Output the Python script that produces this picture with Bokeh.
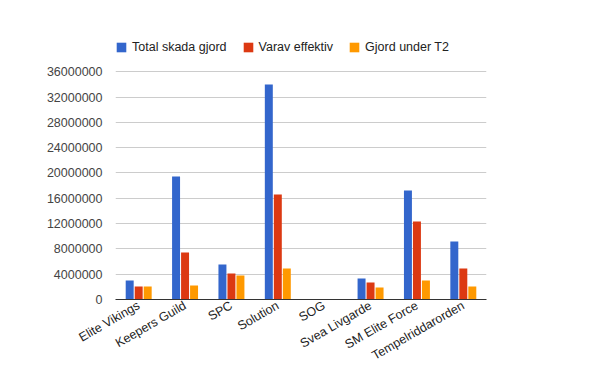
import math
from bokeh.plotting import figure
from bokeh.models import ColumnDataSource, FactorRange, Range1d, Legend, LegendItem, BasicTickFormatter, FixedTicker
from bokeh.transform import dodge
from bokeh.embed import file_html
from bokeh.resources import INLINE

categories = ["Elite Vikings", "Keepers Guild", "SPC", "Solution", "SOG",
              "Svea Livgarde", "SM Elite Force", "Tempelriddarorden"]
series_names = ["Total skada gjord", "Varav effektiv", "Gjord under T2"]
total = [3000000, 19450000, 5530000, 34000000, 0, 3320000, 17240000, 9170000]
effektiv = [2060000, 7430000, 4100000, 16600000, 0, 2690000, 12330000, 4900000]
t2 = [2060000, 2200000, 3800000, 4900000, 0, 1900000, 3000000, 2060000]
y_ticks = [0, 4000000, 8000000, 12000000, 16000000, 20000000, 24000000, 28000000, 32000000, 36000000]
colors = ["#3366cc", "#dc3912", "#ff9900"]

src = ColumnDataSource(dict(cat=categories, total=total, effektiv=effektiv, t2=t2))

FONT = "Liberation Sans"
p = figure(width=600, height=371, x_range=FactorRange(*categories, range_padding=0),
           y_range=Range1d(0, 44110000), output_backend="svg", toolbar_location=None,
           min_border_left=115, min_border_right=114, min_border_top=20, min_border_bottom=10)
p.outline_line_color = None

step = 0.194
bw = 0.172
renderers = []
for i, (col, c) in enumerate(zip(["total", "effektiv", "t2"], colors)):
    r = p.vbar(x=dodge("cat", (i - 1) * step, range=p.x_range), top=col, width=bw,
               source=src, fill_color=c, line_color=None)
    renderers.append(r)

legend = Legend(items=[LegendItem(label=n, renderers=[r]) for n, r in zip(series_names, renderers)],
                orientation="horizontal", location=(0, 245))
legend.glyph_width = 12
legend.glyph_height = 12
legend.label_standoff = 5
legend.spacing = 15
legend.padding = 0
legend.margin = 0
legend.border_line_color = None
legend.background_fill_alpha = 0
legend.label_text_font = FONT
legend.label_text_font_size = "12.5px"
legend.label_text_color = "#222222"
legend.label_height = 12
p.add_layout(legend, "center")

p.ygrid.ticker = FixedTicker(ticks=y_ticks)
p.yaxis.ticker = FixedTicker(ticks=y_ticks)
p.yaxis.formatter = BasicTickFormatter(use_scientific=False)
p.ygrid.grid_line_color = "#cccccc"
p.xgrid.grid_line_color = None
p.yaxis.axis_line_color = None
p.yaxis.major_tick_line_color = None
p.yaxis.minor_tick_line_color = None
p.yaxis.major_tick_out = 0
p.yaxis.major_tick_in = 0
p.yaxis.major_label_text_font = FONT
p.yaxis.major_label_text_font_size = "12.5px"
p.yaxis.major_label_text_color = "#444444"
p.yaxis.major_label_standoff = 13

p.xaxis.axis_line_color = "#333333"
p.xaxis.axis_line_width = 1
p.xaxis.major_tick_line_color = None
p.xaxis.minor_tick_line_color = None
p.xaxis.major_tick_out = 0
p.xaxis.major_tick_in = 0
p.xaxis.major_label_orientation = math.pi / 6
p.xaxis.major_label_text_font = FONT
p.xaxis.major_label_text_font_size = "12.5px"
p.xaxis.major_label_text_color = "#222222"
p.xaxis.major_label_standoff = 5

open("out.html", "w").write(file_html(p, INLINE))
